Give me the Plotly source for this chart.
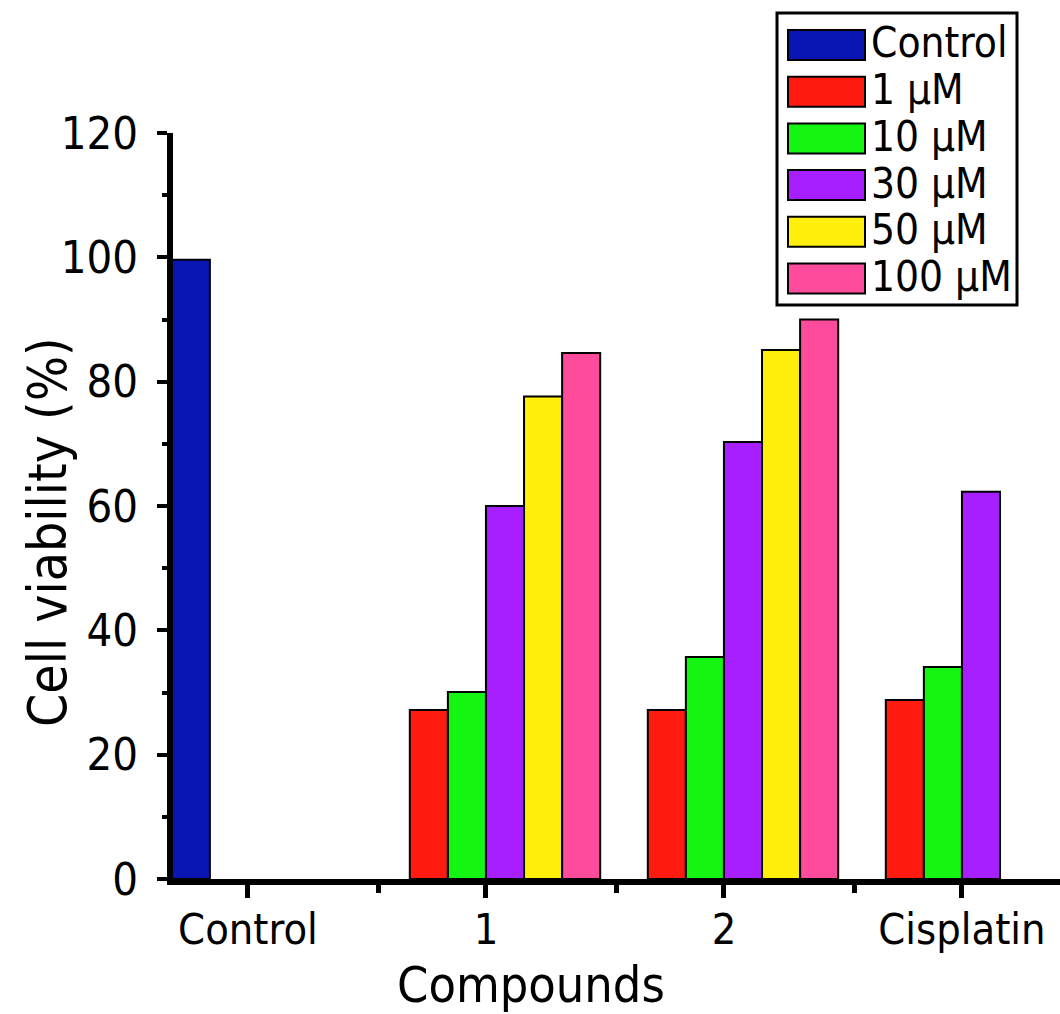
import plotly.graph_objects as go

# ---- data ----
categories = ["Control", "1", "2", "Cisplatin"]
series_names = ["Control", "1 µM", "10 µM", "30 µM", "50 µM", "100 µM"]
control = [99.6, None, None, None]
um1 = [None, 27.2, 27.2, 28.8]
um10 = [None, 30.1, 35.7, 34.1]
um30 = [None, 60.0, 70.3, 62.3]
um50 = [None, 77.6, 85.1, None]
um100 = [None, 84.6, 90.0, None]
y_ticks = [0, 20, 40, 60, 80, 100, 120]

series_values = [control, um1, um10, um30, um50, um100]
colors = ["#0A16B4", "#FF1B10", "#14F514", "#A81FFF", "#FFEF0A", "#FF4B9B"]
offsets = [-0.32, -0.32, -0.16, 0.0, 0.16, 0.32]
bar_w = 0.16

FONT = "DejaVu Sans Condensed, DejaVu Sans, sans-serif"

W, H = 1060, 1014
L, R, T, B = 173, 0, 133, 135
pw, ph = W - L - R, H - T - B


def px_x(px):
    return (px - L) / pw


def px_y(py):
    return (H - B - py) / ph


x_pos = list(range(len(categories)))

fig = go.Figure()
for name, vals, col, off in zip(series_names, series_values, colors, offsets):
    fig.add_trace(go.Bar(
        x=x_pos, y=vals, name=name, width=bar_w, offset=off,
        marker=dict(color=col, line=dict(color="black", width=2)),
        showlegend=False,
    ))

# manual legend box
shapes = [dict(type="rect", xref="paper", yref="paper",
               x0=px_x(777), x1=px_x(1017), y0=px_y(305), y1=px_y(13),
               line=dict(color="black", width=3), fillcolor="white", layer="above")]
annotations = []
for i, (name, col) in enumerate(zip(series_names, colors)):
    top = 30 + 46.7 * i
    shapes.append(dict(type="rect", xref="paper", yref="paper",
                       x0=px_x(788), x1=px_x(865), y0=px_y(top + 30), y1=px_y(top),
                       line=dict(color="black", width=2), fillcolor=col, layer="above"))
    annotations.append(dict(xref="paper", yref="paper", x=px_x(869), y=px_y(top + 13),
                            text=name, showarrow=False, xanchor="left", yanchor="middle",
                            font=dict(family=FONT, size=42, color="black")))

# axis titles
annotations.append(dict(xref="paper", yref="paper", x=px_x(531), y=0, yshift=-75,
                        text="Compounds", showarrow=False, xanchor="center", yanchor="top",
                        font=dict(family=FONT, size=50, color="black")))
annotations.append(dict(xref="paper", yref="paper", x=px_x(47), y=px_y(532),
                        text="Cell viability (%)", showarrow=False, textangle=-90,
                        xanchor="center", yanchor="middle",
                        font=dict(family=FONT, size=53, color="black")))

fig.update_layout(
    width=W, height=H,
    margin=dict(l=L, r=R, t=T, b=B, pad=0),
    paper_bgcolor="white", plot_bgcolor="white",
    barmode="overlay",
    font=dict(family=FONT, color="black"),
    shapes=shapes, annotations=annotations,
    xaxis=dict(
        range=[-0.315, 3.412], tickmode="array", tickvals=x_pos, ticktext=categories,
        showline=True, linewidth=6, linecolor="black", mirror=False,
        ticks="outside", ticklen=13, tickwidth=5, tickcolor="black",
        minor=dict(tick0=0.55, dtick=1, ticks="outside", ticklen=8, tickwidth=5, tickcolor="black"),
        showgrid=False, zeroline=False,
        tickfont=dict(family=FONT, size=43, color="black"),
        ticklabelstandoff=-6,
    ),
    yaxis=dict(
        range=[0, 120], tickmode="array", tickvals=y_ticks,
        showline=True, linewidth=6, linecolor="black",
        ticks="outside", ticklen=10, tickwidth=4, tickcolor="black",
        minor=dict(dtick=10, ticks="outside", ticklen=5, tickwidth=4, tickcolor="black"),
        showgrid=False, zeroline=False,
        tickfont=dict(family=FONT, size=45, color="black"),
        ticklabelstandoff=10,
    ),
)

fig.write_html("out.html")
